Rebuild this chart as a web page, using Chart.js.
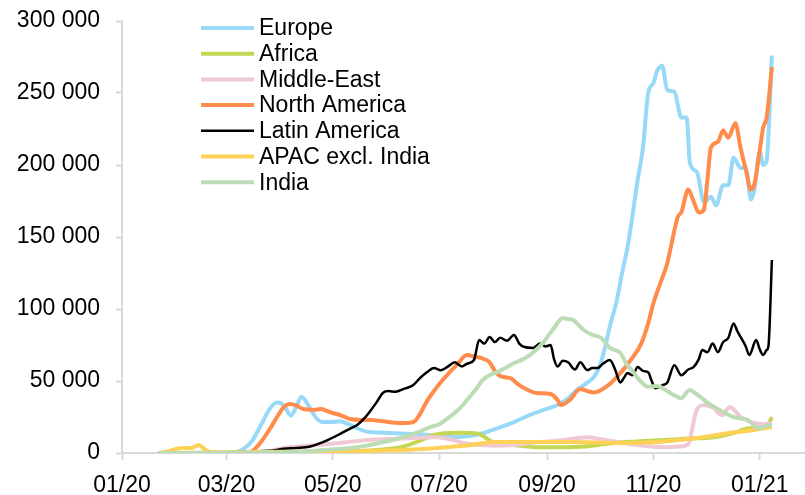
<!DOCTYPE html>
<html lang="en">
<head>
  <meta charset="UTF-8" />
  <title>Daily cases by region</title>
  <style>
    body {
      margin: 0;
      padding: 0;
      background: #fff;
    }
    #wrap {
      width: 805px;
      height: 495px;
      position: relative;
    }
  </style>
</head>
<body>
  <div id="wrap">
    <canvas id="chart" width="805" height="495"></canvas>
  </div>

  <script src="https://cdn.jsdelivr.net/npm/chart.js"></script>
  <script>
    // x values are days since 01/01/2020
    const tickDays = [0, 60, 121, 182, 244, 305, 366];
    const tickLabels = ["01/20", "03/20", "05/20", "07/20", "09/20", "11/20", "01/21"];
    const yTicks = [0, 50000, 100000, 150000, 200000, 250000, 300000];

    const seriesNames = ["Europe", "Africa", "Middle-East", "North America", "Latin America", "APAC excl. India", "India"];
    const seriesColors = ["#97d9f6", "#c5d654", "#efc9d4", "#ff8c4a", "#000000", "#ffd257", "#bcdcb5"];

    const europeDays = [21, 65, 70, 75, 80, 85, 89, 93, 97, 100, 103, 107, 111, 115, 120, 125, 130, 135, 140, 150, 160, 170, 181, 190, 197, 205, 215, 225, 234, 242, 250, 256, 261, 266, 271, 274, 277, 280, 284, 287, 290, 293, 296, 299, 302, 305, 307, 310, 313, 317, 321, 324, 326, 330, 334, 338, 341, 345, 348, 351, 355, 358, 361, 363, 366, 368, 370, 373];
    const europe = [0, 500, 3000, 9000, 20000, 31000, 35000, 33000, 26000, 32000, 39000, 33000, 25000, 21500, 21500, 22000, 20000, 17000, 15000, 14000, 13500, 13000, 12000, 11000, 11500, 13000, 17000, 21500, 26400, 30000, 33300, 38000, 43700, 48000, 53000, 60000, 72000, 88000, 106000, 125000, 142000, 165000, 190000, 212000, 250000, 257000, 265000, 269000, 252000, 251000, 233000, 233000, 201000, 195000, 174000, 178000, 172000, 186000, 186000, 205000, 198000, 198000, 176000, 183000, 209000, 200000, 203000, 276000];

    const africaDays = [21, 110, 130, 150, 160, 170, 179, 194, 204, 213, 225, 240, 257, 270, 282, 295, 311, 325, 340, 350, 359, 368, 371, 373];
    const africa = [0, 500, 1000, 2500, 4000, 8000, 12500, 14000, 13500, 7600, 5500, 4000, 4000, 5000, 7000, 8000, 9000, 10000, 11000, 13500, 17000, 18000, 20000, 25000];

    const middleEastDays = [21, 80, 93, 112, 125, 141, 160, 181, 190, 196, 205, 215, 225, 234, 245, 253, 260, 267, 275, 285, 292, 300, 311, 320, 325, 327, 329, 331, 334, 337, 340, 343, 345, 347, 349, 352, 355, 359, 363, 368, 373];
    const middleEast = [0, 500, 3500, 5500, 7000, 9000, 10000, 11000, 9000, 7000, 5500, 5000, 5500, 7000, 8000, 9000, 10000, 11000, 9500, 7500, 6000, 5000, 4000, 4500, 6000, 15000, 27000, 32000, 33300, 32500, 31000, 27000, 26400, 30000, 32000, 29000, 25000, 22500, 20800, 20000, 20800];

    const northAmericaDays = [21, 70, 75, 80, 85, 90, 93, 96, 100, 104, 110, 114, 118, 121, 126, 131, 137, 143, 150, 160, 165, 168, 171, 175, 179, 184, 188, 192, 198, 202, 206, 211, 214, 218, 223, 227, 231, 238, 246, 250, 252, 257, 263, 267, 271, 279, 286, 292, 298, 302, 305, 309, 313, 315, 319, 321, 325, 328, 331, 334, 336, 338, 342, 345, 348, 352, 355, 358, 361, 363, 366, 368, 370, 373];
    const northAmerica = [0, 0, 1500, 8000, 17000, 27000, 32000, 34000, 33000, 30500, 30000, 30500, 29000, 27800, 26000, 23600, 23000, 23000, 22000, 20800, 21000, 22000, 27000, 36000, 43000, 50700, 56000, 61000, 68000, 67000, 66000, 63000, 57000, 53000, 52000, 48000, 45000, 41700, 41000, 36800, 33300, 36800, 44400, 43000, 42000, 47000, 55500, 64600, 76000, 90000, 104000, 118000, 132000, 143000, 164000, 167000, 183000, 175000, 167000, 169000, 190000, 212000, 216000, 224000, 219000, 229000, 212000, 197000, 183000, 187000, 210000, 226000, 233000, 268000];

    const latinAmericaDays = [21, 85, 93, 100, 108, 113, 118, 124, 131, 135, 139, 143, 146, 150, 153, 157, 160, 163, 167, 171, 175, 179, 183, 187, 191, 195, 198, 202, 205, 208, 211, 214, 217, 221, 225, 228, 231, 236, 240, 243, 246, 248, 250, 253, 256, 260, 263, 267, 270, 273, 276, 280, 283, 286, 288, 290, 293, 296, 299, 302, 304, 306, 310, 313, 317, 321, 325, 328, 331, 333, 336, 339, 342, 345, 348, 351, 353, 355, 358, 360, 364, 366, 368, 370, 371, 373];
    const latinAmerica = [0, 1500, 3000, 3500, 4500, 6500, 9000, 12500, 17000, 19500, 24000, 30000, 35000, 42000, 43000, 42500, 43700, 45000, 47000, 52000, 56000, 59000, 57500, 60000, 63000, 60000, 62000, 64600, 78500, 76000, 80600, 77000, 80000, 78000, 82000, 76000, 73600, 73000, 76000, 74000, 75000, 65000, 60000, 64000, 63000, 58000, 63000, 57600, 59000, 59000, 62000, 64600, 58000, 49000, 52000, 55500, 54000, 59700, 57000, 56000, 50000, 45000, 47000, 49000, 61000, 54000, 58000, 59700, 65000, 71500, 70000, 76000, 70000, 77000, 80000, 90000, 85000, 80600, 74000, 68000, 78500, 72000, 68000, 71500, 74000, 134000];

    const apacDays = [21, 26, 30, 35, 40, 44, 48, 52, 60, 90, 120, 140, 160, 181, 196, 215, 253, 292, 311, 330, 349, 363, 373];
    const apac = [0, 1000, 2500, 3500, 3500, 5500, 2000, 500, 500, 800, 1000, 1500, 2000, 3500, 5000, 7600, 7600, 7000, 8000, 10400, 14000, 16000, 18000];

    const indiaDays = [21, 90, 110, 120, 131, 140, 150, 160, 170, 177, 181, 188, 193, 198, 203, 207, 211, 215, 220, 225, 230, 234, 238, 242, 245, 248, 251, 253, 256, 259, 262, 265, 270, 275, 280, 283, 286, 290, 293, 296, 302, 306, 309, 313, 317, 321, 324, 326, 329, 332, 336, 340, 345, 351, 355, 359, 362, 365, 369, 373];
    const india = [0, 500, 1500, 2500, 3500, 5000, 7600, 10500, 14500, 18000, 19400, 25000, 30000, 36800, 44000, 50700, 54000, 56000, 59000, 62500, 65000, 68000, 72000, 77000, 82000, 86800, 92000, 93700, 93000, 92400, 89000, 85400, 82000, 80000, 73000, 71500, 69400, 61000, 57000, 52000, 46000, 46500, 46000, 43000, 40000, 38000, 42000, 43700, 41500, 39000, 35000, 32000, 28500, 25000, 24000, 23000, 20000, 17000, 18500, 19400];

    const allDays = [europeDays, africaDays, middleEastDays, northAmericaDays, latinAmericaDays, apacDays, indiaDays];
    const allValues = [europe, africa, middleEast, northAmerica, latinAmerica, apac, india];

    const FONT = "'Liberation Sans', Arial, sans-serif";

    function spaced(v) {
      return String(v).replace(/\B(?=(\d{3})+(?!\d))/g, " ");
    }

    const datasets = seriesNames.map((name, i) => ({
      label: name,
      data: allDays[i].map((d, k) => ({ x: d, y: allValues[i][k] })),
      borderColor: seriesColors[i],
      backgroundColor: seriesColors[i],
      borderWidth: name === "Latin America" ? 2.5 : 4,
      pointRadius: 0,
      cubicInterpolationMode: "monotone",
      fill: false,
      order: seriesNames.length - i
    }));

    // vertical legend in the top left of the plot
    const legendPlugin = {
      id: "sideLegend",
      afterDraw(chart) {
        const ctx = chart.ctx;
        ctx.save();
        ctx.font = "23px " + FONT;
        ctx.textBaseline = "middle";
        ctx.fillStyle = "#000";
        chart.data.datasets.forEach((ds, i) => {
          const y = 28 + i * 25.7;
          ctx.strokeStyle = ds.borderColor;
          ctx.lineWidth = ds.label === "Latin America" ? 2.5 : 4;
          ctx.beginPath();
          ctx.moveTo(201, y);
          ctx.lineTo(254, y);
          ctx.stroke();
          ctx.fillText(ds.label, 259, y + 1);
        });
        ctx.restore();
      }
    };

    new Chart(document.getElementById("chart"), {
      type: "line",
      data: { datasets },
      plugins: [legendPlugin],
      options: {
        responsive: false,
        animation: false,
        layout: { padding: { top: 21, right: 0, left: 0, bottom: 0 } },
        plugins: {
          legend: { display: false },
          tooltip: { enabled: false }
        },
        scales: {
          x: {
            type: "linear",
            min: 0,
            max: 392,
            afterBuildTicks(scale) {
              scale.ticks = tickDays.map(v => ({ value: v }));
            },
            afterFit(scale) { scale.height = 42; },
            grid: {
              drawOnChartArea: false,
              drawTicks: true,
              tickLength: 7,
              tickColor: "#d9d9d9",
              tickWidth: 2
            },
            border: { color: "#d9d9d9", width: 2 },
            ticks: {
              padding: 12,
              maxRotation: 0,
              autoSkip: false,
              color: "#000",
              font: { family: FONT, size: 23 },
              callback(v) {
                const i = tickDays.indexOf(v);
                return i >= 0 ? tickLabels[i] : "";
              }
            }
          },
          y: {
            min: 0,
            max: 300000,
            afterBuildTicks(scale) {
              scale.ticks = yTicks.map(v => ({ value: v }));
            },
            afterFit(scale) {
              scale.width = 122;
              scale.paddingTop = 0;
              scale.paddingBottom = 0;
            },
            grid: {
              drawOnChartArea: false,
              drawTicks: true,
              tickLength: 6,
              tickColor: "#d9d9d9",
              tickWidth: 2
            },
            border: { color: "#d9d9d9", width: 2 },
            ticks: {
              padding: 16,
              color: "#000",
              font: { family: FONT, size: 23 },
              callback: v => spaced(v)
            }
          }
        }
      }
    });
  </script>
</body>
</html>
